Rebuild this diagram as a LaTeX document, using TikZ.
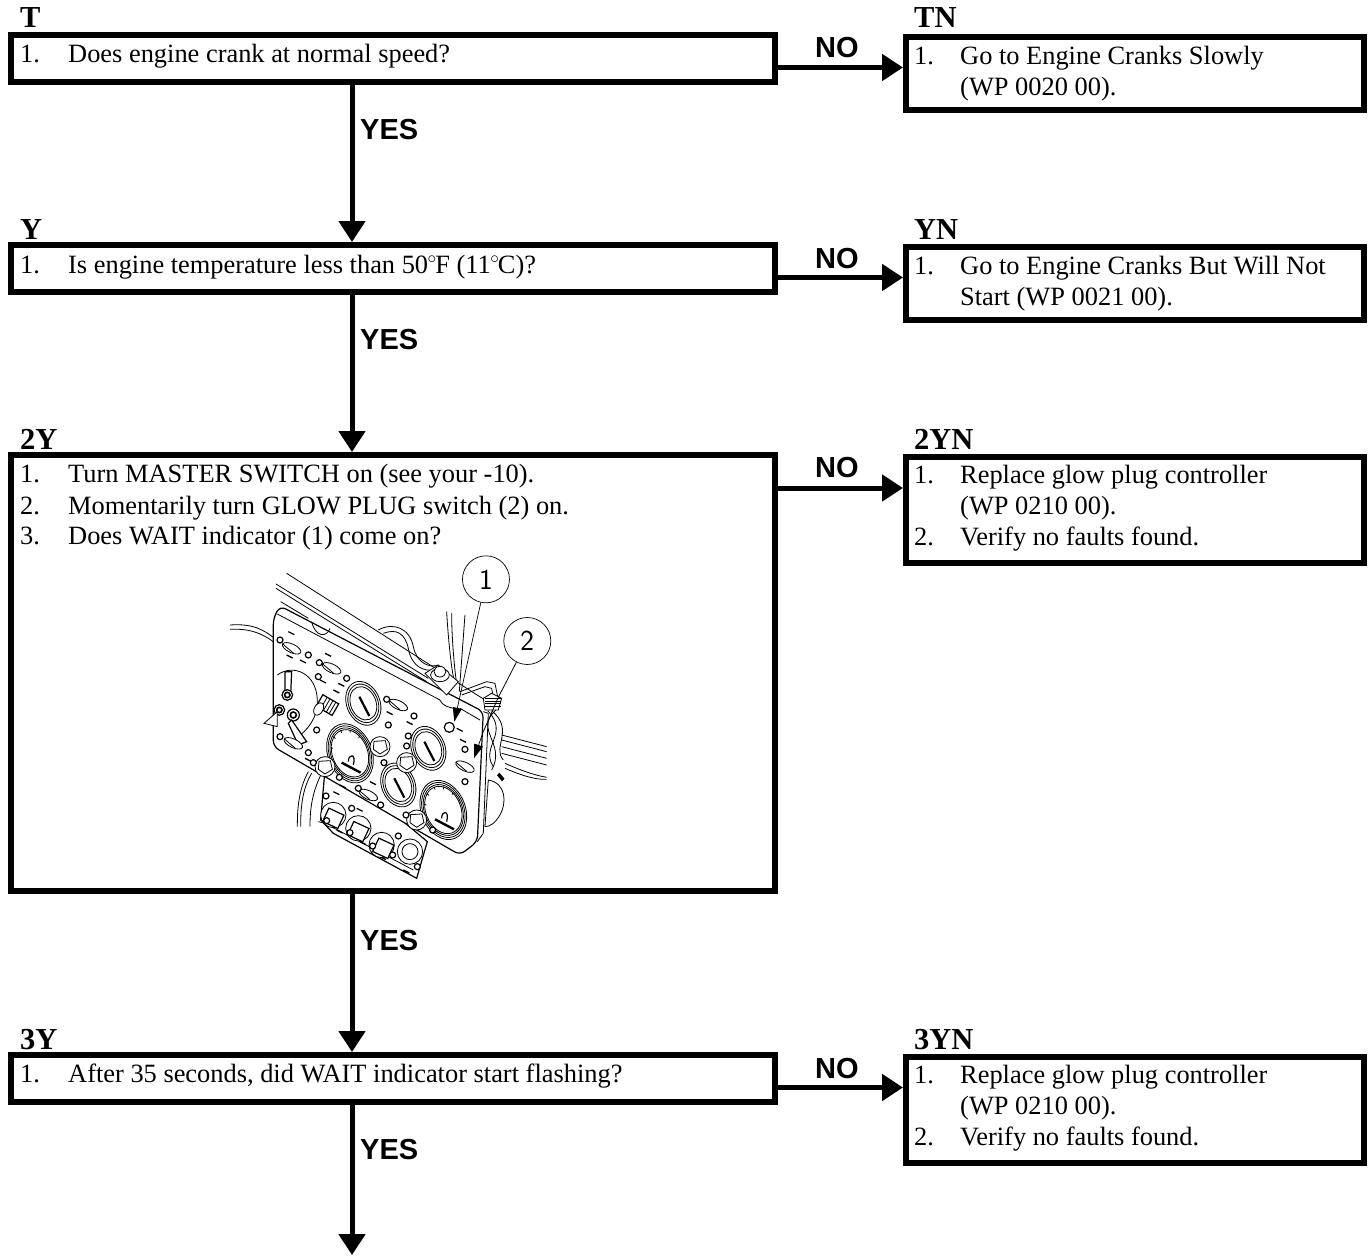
\documentclass[tikz,border=0pt]{standalone}
\usepackage{fontspec}
\setmainfont{Liberation Serif}
\setsansfont{Liberation Sans}
\newfontfamily\callfont{Latin Modern Sans}
\usepackage{tikz}
\usetikzlibrary{arrows.meta, calc}
\newcommand{\stepfont}{\fontsize{26.4}{31}\selectfont}
\newcommand{\tagfont}{\fontsize{30.5}{32}\selectfont\bfseries}
\newcommand{\ansfont}{\fontsize{29}{30}\selectfont\sffamily\bfseries}
\newcommand{\degsign}{\kern-0.5pt\textsuperscript{$\circ$}\kern-1.5pt}

\begin{document}
\begin{tikzpicture}[
    x=1pt, y=-1pt,
    >={Triangle[width=26pt, length=21pt]},
    stepbox/.style={draw, line width=6pt, anchor=north west, inner sep=0pt},
    steptext/.style={font=\stepfont, anchor=base west, inner sep=0pt},
    tagtext/.style={font=\tagfont, anchor=base west, inner sep=0pt},
    anstext/.style={font=\ansfont, anchor=base west, inner sep=0pt},
    yesarrow/.style={->, line width=5pt},
    noarrow/.style={->, line width=5pt},
    callout/.style={draw, circle, line width=0.7pt, minimum size=47pt, inner sep=0pt,
      font=\fontsize{29}{29}\selectfont\callfont},
    leader/.style={line width=0.7pt, -{Triangle[width=9pt, length=14pt]}},
    thinline/.style={line width=0.8pt},
    medline/.style={line width=1.2pt}
  ]
  \useasboundingbox (0,0) rectangle (1370,1255);

  % Boxes
  \node[stepbox, minimum width=764pt, minimum height=47pt] (t) at (8,32) {};
  \node[stepbox, minimum width=458pt, minimum height=73pt] (tn) at (903,34) {};
  \node[stepbox, minimum width=764pt, minimum height=47pt] (y) at (8,242) {};
  \node[stepbox, minimum width=458pt, minimum height=73pt] (yn) at (903,244) {};
  \node[stepbox, minimum width=764pt, minimum height=436pt] (2y) at (8,452) {};
  \node[stepbox, minimum width=458pt, minimum height=106pt] (2yn) at (903,454) {};
  \node[stepbox, minimum width=764pt, minimum height=47pt] (3y) at (8,1052) {};
  \node[stepbox, minimum width=458pt, minimum height=106pt] (3yn) at (903,1054) {};

  % Tags
  \node[tagtext] (tagt) at (20,28) {T};
  \node[tagtext] (tagtn) at (914,28) {TN};
  \node[tagtext] (tagy) at (20,239) {Y};
  \node[tagtext] (tagyn) at (914,239) {YN};
  \node[tagtext] (tag2y) at (20,449) {2Y};
  \node[tagtext] (tag2yn) at (914,449) {2YN};
  \node[tagtext] (tag3y) at (20,1049) {3Y};
  \node[tagtext] (tag3yn) at (914,1049) {3YN};

  % Box texts
  \node[steptext] (t1) at (20,63) {1.};
  \node[steptext] at (68,63) {Does engine crank at normal speed?};
  \node[steptext] (tn1) at (914,64) {1.};
  \node[steptext] at (960,64) {Go to Engine Cranks Slowly};
  \node[steptext] at (960,95) {(WP 0020 00).};

  \node[steptext] (y1) at (20,273) {1.};
  \node[steptext] at (68,273) {Is engine temperature less than 50\degsign F (11\degsign C)?};
  \node[steptext] (yn1) at (914,274) {1.};
  \node[steptext] at (960,274) {Go to Engine Cranks But Will Not};
  \node[steptext] at (960,305) {Start (WP 0021 00).};

  \node[steptext] (2y1) at (20,482) {1.};
  \node[steptext] at (68,482) {Turn MASTER SWITCH on (see your -10).};
  \node[steptext] (2y2) at (20,514) {2.};
  \node[steptext] at (68,514) {Momentarily turn GLOW PLUG switch (2) on.};
  \node[steptext] (2y3) at (20,544) {3.};
  \node[steptext] at (68,544) {Does WAIT indicator (1) come on?};
  \node[steptext] (2yn1) at (914,483) {1.};
  \node[steptext] at (960,483) {Replace glow plug controller};
  \node[steptext] at (960,514) {(WP 0210 00).};
  \node[steptext] (2yn2) at (914,545) {2.};
  \node[steptext] at (960,545) {Verify no faults found.};

  \node[steptext] (3y1) at (20,1082) {1.};
  \node[steptext] at (68,1082) {After 35 seconds, did WAIT indicator start flashing?};
  \node[steptext] (3yn1) at (914,1083) {1.};
  \node[steptext] at (960,1083) {Replace glow plug controller};
  \node[steptext] at (960,1114) {(WP 0210 00).};
  \node[steptext] (3yn2) at (914,1145) {2.};
  \node[steptext] at (960,1145) {Verify no faults found.};

  % YES arrows
  \coordinate (yesx) at (352,0);
  \coordinate (endb) at (352,1255);
  \draw[yesarrow] (t.south -| yesx) -- (y.north -| yesx);
  \draw[yesarrow] (y.south -| yesx) -- (2y.north -| yesx);
  \draw[yesarrow] (2y.south -| yesx) -- (3y.north -| yesx);
  \draw[yesarrow] (3y.south -| yesx) -- (endb);
  \node[anstext] (yes1) at (360,139) {YES};
  \node[anstext] (yes2) at (360,349) {YES};
  \node[anstext] (yes3) at (360,950) {YES};
  \node[anstext] (yes4) at (360,1159) {YES};

  % NO arrows
  \draw[noarrow] ([yshift=-9pt]t.east) -- ([yshift=-9pt]t.east -| tn.west);
  \draw[noarrow] ([yshift=-9pt]y.east) -- ([yshift=-9pt]y.east -| yn.west);
  \draw[noarrow] (2y.north east |- 0,488) -- (2yn.west |- 0,488);
  \draw[noarrow] ([yshift=-9pt]3y.east) -- ([yshift=-9pt]3y.east -| 3yn.west);
  \node[anstext] (no1) at (815,58) {NO};
  \node[anstext] (no2) at (815,268) {NO};
  \node[anstext] (no3) at (815,477) {NO};
  \node[anstext] (no4) at (815,1078) {NO};

  % Control panel
  \begin{scope}[shift={(190,540)}, x=0.3333pt, y=-0.3333pt]
    % bar and wires behind
    \draw[thinline] (290,100) -- (885,480);
    \draw[thinline] (258,132) -- (715,415);
    \draw[thinline] (258,145) -- (710,425);
    \draw[thinline] (272,185) -- (355,235);
    \draw[thinline] (120,255) .. controls (190,250) and (220,270) .. (250,292);
    \draw[thinline] (120,268) .. controls (180,265) and (215,280) .. (250,305);
    \draw[thinline] (565,270) .. controls (610,245) and (660,265) .. (670,320) .. controls (680,370) and (720,385) .. (745,375);
    \draw[thinline] (580,280) .. controls (620,265) and (645,280) .. (655,325) .. controls (665,380) and (700,395) .. (735,390);
    \draw[thinline] (770,215) .. controls (775,300) and (785,400) .. (795,430);
    \draw[thinline] (785,220) .. controls (785,300) and (795,400) .. (800,430);
    \draw[thinline] (825,225) -- (808,455);
    \draw[thinline] (810,455) -- (890,425) -- (915,430) -- (925,480);
    \draw[thinline] (815,465) -- (885,440) -- (905,445) -- (912,480);
    % hanging cables
    \draw[thinline] (355,695) .. controls (325,750) and (322,810) .. (322,860);
    \draw[thinline] (365,700) .. controls (335,750) and (332,810) .. (332,860);
    \draw[thinline] (395,700) .. controls (365,760) and (360,810) .. (360,860);
    % lower plate
    \draw[medline, fill=white] (404,700) -- (392,840) -- (430,880) -- (680,1015) -- (712,905) -- (575,790) -- cycle;
    \draw[thinline] (385,845) -- (405,850) -- (670,990);
    % main plate
    \draw[medline, fill=white, rounded corners=6pt] (250,235) -- (270,198) -- (880,515) -- (862,905) -- (810,945) -- (250,620) -- cycle;
    \draw[thinline] (880,515) -- (895,520) -- (880,880) -- (862,905);
    \draw[thinline] (262,222) -- (750,480);
    \draw[thinline] (750,480) .. controls (760,500) and (775,500) .. (790,505);
    \draw[thinline] (810,505) -- (870,540);
    \draw[thinline] (365,245) .. controls (375,290) and (410,295) .. (420,265);
    % mounting clamp
    \draw[thinline, fill=white] (705,400) -- (745,375) -- (805,425) -- (770,465) -- cycle;
    \draw[thinline, fill=white] (750,405) ellipse (28 and 20);
    \draw[thinline, fill=white] (750,395) ellipse (18 and 16);
    % selector dial
    \draw[thinline] (262,405) .. controls (310,370) and (380,400) .. (382,480) .. controls (382,540) and (350,570) .. (325,590);
    \draw[medline, fill=white] (285,395) -- (305,395) -- (302,465) -- (285,465) -- cycle;
    \draw[medline, fill=white] (292,465) circle (16);
    \draw[line width=1.6pt, fill=white] (292,465) circle (8);
    \draw[medline, fill=white] (268,510) circle (16);
    \draw[line width=1.6pt, fill=white] (268,510) circle (8);
    \draw[medline, fill=white] (310,525) circle (18);
    \draw[line width=1.6pt, fill=white] (310,525) circle (9);
    \draw[thinline, fill=white] (262,515) -- (222,550) -- (262,560) -- cycle;
    \draw[medline, fill=white] (305,540) -- (350,605) -- (325,615) -- (295,550) -- cycle;
    % connector
    \draw[medline, fill=white, rotate around={-30:(412,495)}] (385,475) rectangle (440,515);
    \foreach \cx in {400,410,420,430} {
      \draw[thinline, rotate around={-30:(412,495)}] (\cx,475) -- (\cx,515);
    }
    \draw[thinline, fill=white, rotate around={-30:(386,507)}] (386,507) ellipse (13 and 20);
    % toggles
    \foreach \tx/\ty in {305/325, 425/385, 625/495, 310/610, 825/680, 535/765} {
      \draw[thinline, fill=white, rotate around={-25:(\tx,\ty)}] (\tx,\ty) ellipse (30 and 13);
      \draw[thinline] (\tx-28,\ty-14) -- (\tx+5,\ty+14);
    }
    % big gauges
    \foreach \gx/\gy in {480/640, 760/810} {
      \foreach \gr in {1,0.93,0.86,0.8} {
        \draw[thinline, fill=white, rotate around={22:(\gx,\gy)}] (\gx,\gy) ellipse ({66*\gr} and {92*\gr});
      }
      \draw[medline] (\gx-5,\gy+25) .. controls (\gx-5,\gy) and (\gx+20,\gy) .. (\gx+10,\gy+35);
      \draw[line width=2.4pt] (\gx-25,\gy+28) -- (\gx+32,\gy+58);
      \foreach \ga in {-60,-30,0,30,60} {
        \draw[thinline, rotate around={22:(\gx,\gy)}] (\gx,\gy) ++({\ga-90}:{48} and {66}) -- ++({\ga-90}:{6} and {9});
      }
    }
    % medium gauges
    \foreach \gx/\gy in {520/490, 715/625, 625/735} {
      \foreach \gr in {1,0.88,0.76} {
        \draw[thinline, fill=white, rotate around={22:(\gx,\gy)}] (\gx,\gy) ellipse ({50*\gr} and {68*\gr});
      }
      \draw[line width=2.2pt] (\gx-12,\gy-20) -- (\gx+18,\gy+38);
    }
    % small knobs
    \foreach \kx/\ky in {570/620, 650/668, 405/680, 680/840} {
      \draw[thinline, fill=white] (\kx,\ky) circle (30);
      \draw[thinline, fill=white] (\kx-18,\ky-16) -- (\kx+16,\ky-18) -- (\kx+22,\ky+8) -- (\kx,\ky+22) -- (\kx-20,\ky+8) -- cycle;
    }
    % bolts
    \foreach \bx/\by in {270/300, 355/345, 388/368, 385/410, 470/415, 590/478, 672/528, 595/555, 655/588, 582/668, 650/618,
      825/628, 825/725, 380/570, 270/590, 355/638, 370/668, 448/712, 505/745, 572/795, 648/825, 728/870} {
      \draw[line width=1.2pt, fill=white] (\bx,\by) circle (9);
    }
    % panel lettering marks
    \foreach \mx/\my in {295/275, 290/345, 330/360, 405/340, 390/420, 445/430, 430/450, 590/515, 650/545, 800/565, 810/598, 345/655, 450/735, 540/725, 430/755, 500/805, 440/870, 510/905, 570/950, 640/990} {
      \draw[line width=1.3pt] (\mx,\my) -- ++(18,9);
    }
    % wait indicator
    \draw[medline, fill=white] (778,562) circle (15);
    % lower plate knobs
    \foreach \kx/\ky in {430/825, 505/865, 575/915, 660/935} {
      \draw[thinline, fill=white] (\kx,\ky) circle (38);
    }
    \foreach \kx/\ky in {430/835, 505/875, 580/925} {
      \draw[medline, fill=white, rotate around={-25:(\kx,\ky)}] (\kx-25,\ky-22) rectangle (\kx+25,\ky+22);
    }
    \draw[thinline] (660,935) circle (24);
    \foreach \bx/\by in {408/768, 485/805, 625/888, 410/842, 480/878, 548/918, 608/945, 682/980} {
      \draw[line width=1.2pt, fill=white] (\bx,\by) circle (9);
    }
    % right side harness
    \draw[thinline, fill=white] (880,475) -- (885,510) -- (925,510) -- (935,475) -- (905,460) -- cycle;
    \foreach \hy in {475,483,491,499} {
      \draw[thinline] (884,\hy) -- (932,\hy);
    }
    \draw[thinline] (893,512) .. controls (960,580) and (870,620) .. (910,680);
    \draw[thinline] (918,510) .. controls (850,570) and (950,610) .. (905,690);
    \draw[thinline] (905,512) .. controls (975,570) and (905,620) .. (940,660);
    \foreach \cy in {585,600,620,640} {
      \draw[thinline] (935,\cy) -- (1070,\cy+35);
    }
    \draw[thinline] (945,670) .. controls (990,690) and (1030,705) .. (1070,712);
    \draw[thinline] (945,685) .. controls (980,700) and (1030,720) .. (1070,718);
    \draw[thinline, fill=white] (895,720) .. controls (950,730) and (950,790) .. (930,825) .. controls (915,850) and (900,860) .. (885,860) -- cycle;
    \draw[thinline, fill=black] (928,700) -- (942,716) -- (936,722) -- (923,706) -- cycle;

    % callouts
    \node[callout] (call1) at (888,118) {1};
    \node[callout] (call2) at (1012,303) {2};
    \coordinate (tip1) at (793,545);
    \coordinate (bend2) at (880,575);
    \coordinate (tip2) at (852,655);
    \draw[leader] (call1) -- (tip1);
    \draw[thinline] (call2) -- (925,472) -- (bend2);
    \draw[leader] (bend2) -- (tip2);
  \end{scope}
\end{tikzpicture}
\end{document}
